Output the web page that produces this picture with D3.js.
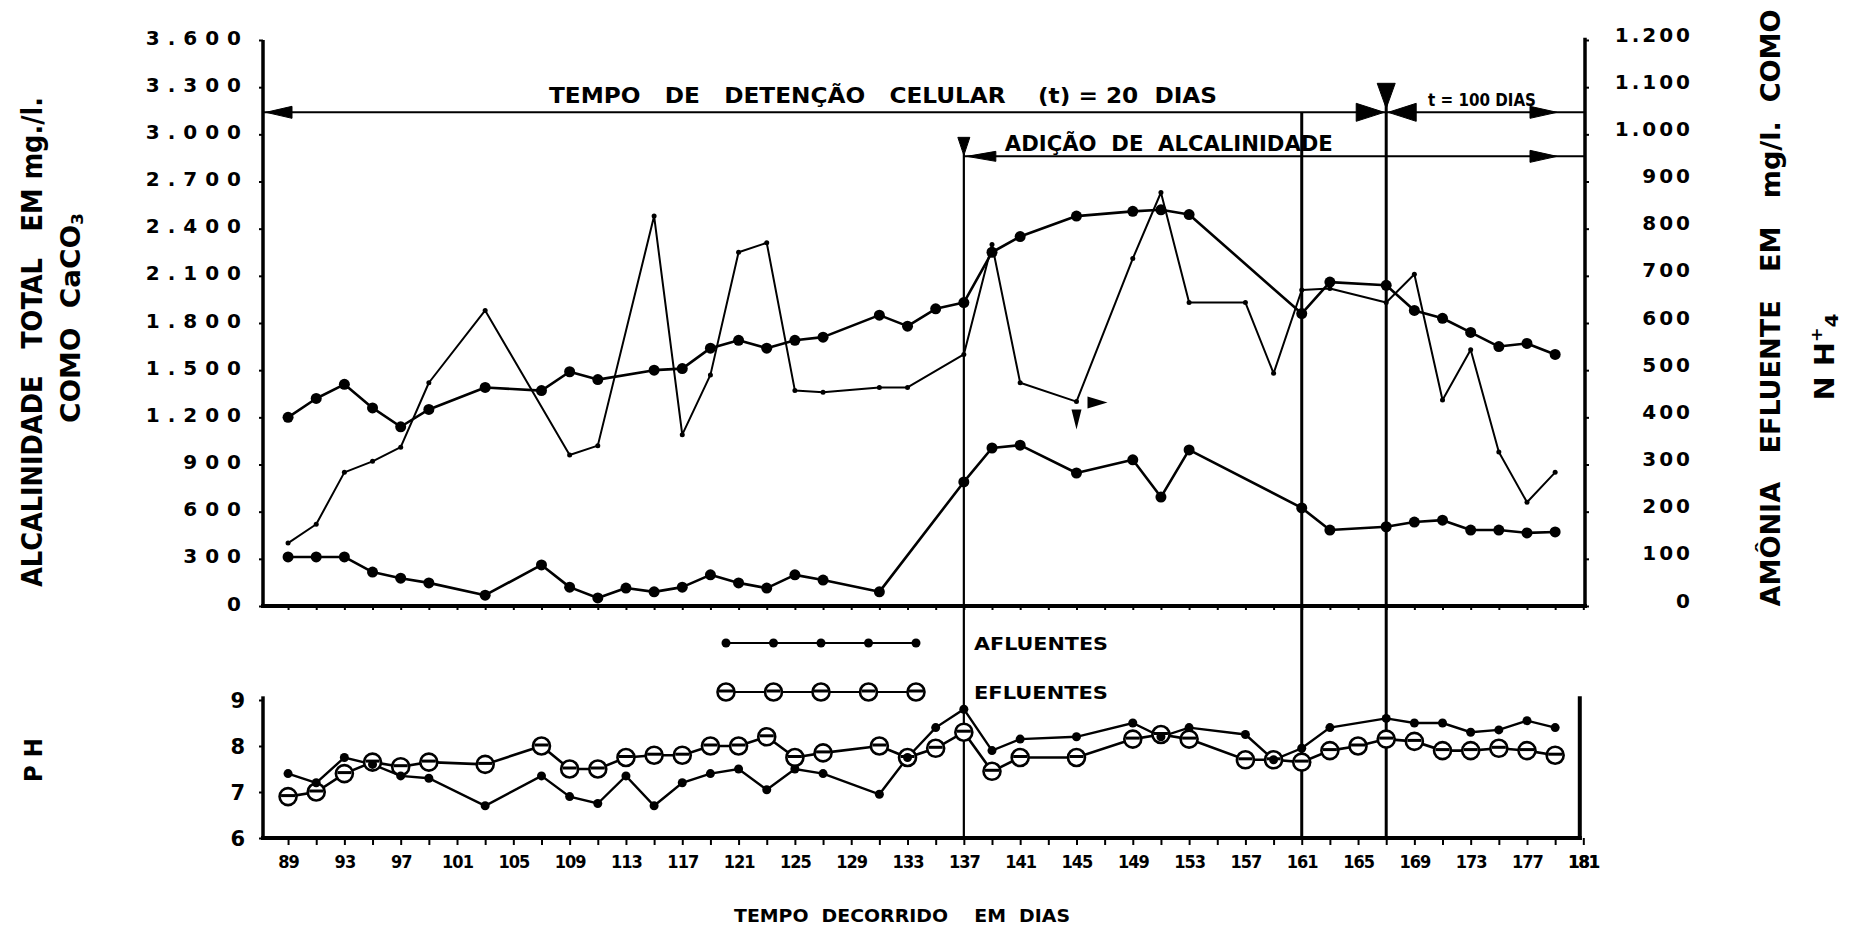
<!DOCTYPE html>
<html>
  <head>
    <meta charset="utf-8">
    <script src="https://d3js.org/d3.v7.min.js"></script>
    <title>Alcalinidade, amônia e pH</title>
    <style>
      body { margin: 0px; background: #fff; }
      svg { display: block; }
      text {
        font-family: 'DejaVu Sans', sans-serif;
        font-weight: bold;
        fill: #000;
        white-space: pre;
      }
      .cond { font-family: 'DejaVu Sans Condensed', 'DejaVu Sans', sans-serif; }
      .axis .domain { display: none; }
      .axis line { stroke: #000; stroke-width: 2; }
    </style>
  </head>
  <body>
    <svg width="1852" height="927"></svg>
    <script>
      // alcalinidade total afluente (mg/l CaCO3) - linha de pontos pequenos
      var diasAlcAfl = [89, 91, 93, 95, 97, 99, 103, 109, 111, 115, 117, 119, 121, 123, 125, 127, 131, 133,
        137, 139, 141, 145, 149, 151, 153, 157, 159, 161, 163, 167, 169, 171, 173, 175, 177, 179];
      var alcAfluente = [400, 520, 850, 920, 1010, 1420, 1880, 960, 1020, 2480, 1090, 1470, 2250, 2310, 1370, 1360, 1390, 1390,
        1600, 2300, 1420, 1300, 2210, 2630, 1930, 1930, 1480, 2010, 2020, 1930, 2110, 1310, 1630, 980, 660, 850];

      // alcalinidade total efluente (mg/l CaCO3)
      var diasAlcEfl = [89, 91, 93, 95, 97, 99, 103, 107, 109, 111, 115, 117, 119, 121, 123, 125, 127, 131, 133, 135,
        137, 139, 141, 145, 149, 151, 153, 161, 163, 167, 169, 171, 173, 175, 177, 179];
      var alcEfluente = [1200, 1320, 1410, 1260, 1140, 1250, 1390, 1370, 1490, 1440, 1500, 1510, 1640, 1690, 1640, 1690, 1710, 1850, 1780, 1890,
        1930, 2250, 2350, 2480, 2510, 2520, 2490, 1860, 2060, 2040, 1880, 1830, 1740, 1650, 1670, 1600];

      // amônia efluente (mg/l NH4+) - eixo da direita
      var diasAmonia = [89, 91, 93, 95, 97, 99, 103, 107, 109, 111, 113, 115, 117, 119, 121, 123, 125, 127, 131,
        137, 139, 141, 145, 149, 151, 153, 161, 163, 167, 169, 171, 173, 175, 177, 179];
      var amonia = [104, 104, 104, 72, 59, 49, 23, 87, 40, 17, 38, 30, 40, 66, 49, 38, 66, 55, 30,
        263, 335, 341, 282, 310, 231, 331, 208, 161, 168, 178, 182, 161, 161, 155, 157];

      // pH
      var diasPhAfl = [89, 91, 93, 95, 97, 99, 103, 107, 109, 111, 113, 115, 117, 119, 121, 123, 125, 127, 131, 133,
        135, 137, 139, 141, 145, 149, 151, 153, 157, 159, 161, 163, 167, 169, 171, 173, 175, 177, 179];
      var phAfluente = [7.4, 7.2, 7.75, 7.6, 7.35, 7.3, 6.7, 7.35, 6.9, 6.75, 7.35, 6.7, 7.2, 7.4, 7.5, 7.05, 7.5, 7.4, 6.95, 7.75,
        8.4, 8.8, 7.9, 8.15, 8.2, 8.5, 8.2, 8.4, 8.25, 7.7, 7.95, 8.4, 8.6, 8.5, 8.5, 8.3, 8.35, 8.55, 8.4];
      var diasPhEfl = [89, 91, 93, 95, 97, 99, 103, 107, 109, 111, 113, 115, 117, 119, 121, 123, 125, 127, 131, 133,
        135, 137, 139, 141, 145, 149, 151, 153, 157, 159, 161, 163, 165, 167, 169, 171, 173, 175, 177, 179];
      var phEfluente = [6.9, 7.0, 7.4, 7.65, 7.55, 7.65, 7.6, 8.0, 7.5, 7.5, 7.75, 7.8, 7.8, 8.0, 8.0, 8.2, 7.75, 7.85, 8.0, 7.75,
        7.95, 8.3, 7.45, 7.75, 7.75, 8.15, 8.25, 8.15, 7.7, 7.7, 7.65, 7.9, 8.0, 8.15, 8.1, 7.9, 7.9, 7.95, 7.9, 7.8];

      // eixos
      var ticksAlc = [0, 300, 600, 900, 1200, 1500, 1800, 2100, 2400, 2700, 3000, 3300, 3600];
      var ticksAmonia = [0, 100, 200, 300, 400, 500, 600, 700, 800, 900, 1000, 1100, 1200];
      var ticksPh = [6, 7, 8, 9];
      var diasRotulo = [89, 93, 97, 101, 105, 109, 113, 117, 121, 125, 129, 133, 137, 141, 145, 149, 153, 157, 161, 165, 169, 173, 177, 181];

      // mudanças de operação
      var diaAdicao = 137;
      var diaMarco = 161;
      var diaTempo100 = 167;

      var svg = d3.select('svg');

      var x = d3.scaleLinear().domain([87.22, 181.12]).range([263, 1585]);
      var yAlc = d3.scaleLinear().domain([0, 3600]).range([606, 40]);
      var yAm = d3.scaleLinear().domain([0, 1200]).range([606, 40]);
      var yPh = d3.scaleLinear().domain([6, 9]).range([838, 700]);

      var br = d3.formatLocale({ decimal: ',', thousands: '.', grouping: [3], currency: ['', ''] });
      var fmt = br.format(',');

      var diasTick = d3.range(89, 182, 2);

      // ---------- eixos do gráfico principal ----------
      var gLeft = svg.append('g').attr('class', 'axis')
          .attr('transform', 'translate(263,0)')
          .call(d3.axisLeft(yAlc).tickValues(ticksAlc).tickFormat(fmt).tickSize(4).tickPadding(10));
      gLeft.selectAll('text')
          .attr('font-size', 20).attr('letter-spacing', 8).attr('dy', '0.2em');

      var gRight = svg.append('g').attr('class', 'axis')
          .attr('transform', 'translate(1585,0)')
          .call(d3.axisRight(yAm).tickValues(ticksAmonia).tickFormat(fmt).tickSize(4));
      gRight.selectAll('text')
          .attr('font-size', 20).attr('letter-spacing', 3)
          .attr('text-anchor', 'end').attr('x', 108).attr('dy', '0.05em');

      svg.append('g').attr('class', 'axis')
          .attr('transform', 'translate(0,606)')
          .call(d3.axisBottom(x).tickValues(diasTick).tickFormat('').tickSize(4));

      svg.append('line').attr('x1', 263).attr('x2', 263).attr('y1', yAlc(3600)).attr('y2', 608)
          .attr('stroke', '#000').attr('stroke-width', 3.5);
      svg.append('line').attr('x1', 1585).attr('x2', 1585).attr('y1', yAm(1205)).attr('y2', 608)
          .attr('stroke', '#000').attr('stroke-width', 3.5);
      svg.append('line').attr('x1', 261).attr('x2', 1587).attr('y1', 606).attr('y2', 606)
          .attr('stroke', '#000').attr('stroke-width', 4);

      // ---------- eixos do pH ----------
      var xPhFim = x(180.75);
      var gPh = svg.append('g').attr('class', 'axis')
          .attr('transform', 'translate(263,0)')
          .call(d3.axisLeft(yPh).tickValues(ticksPh).tickFormat(d3.format('d')).tickSize(4).tickPadding(14));
      gPh.selectAll('text').attr('font-size', 21).attr('dy', '0.35em');

      var gPhX = svg.append('g').attr('class', 'axis')
          .attr('transform', 'translate(0,838)')
          .call(d3.axisBottom(x).tickValues(diasTick)
            .tickFormat(function (d) { return diasRotulo.indexOf(d) >= 0 ? d : ''; })
            .tickSize(7).tickPadding(10));
      gPhX.selectAll('text').attr('class', 'cond').attr('font-size', 18).attr('letter-spacing', -1);
      gPhX.append('text').attr('class', 'cond')
          .attr('x', x(181)).attr('y', 17).attr('dy', '0.71em')
          .attr('text-anchor', 'middle').attr('font-size', 18).attr('letter-spacing', -1)
          .text('181');

      svg.append('line').attr('x1', 263).attr('x2', 263).attr('y1', yPh(9.08)).attr('y2', 840)
          .attr('stroke', '#000').attr('stroke-width', 3.5);
      svg.append('line').attr('x1', xPhFim).attr('x2', xPhFim).attr('y1', yPh(9.08)).attr('y2', 840)
          .attr('stroke', '#000').attr('stroke-width', 4);
      svg.append('line').attr('x1', 261).attr('x2', xPhFim + 2).attr('y1', 838).attr('y2', 838)
          .attr('stroke', '#000').attr('stroke-width', 4);

      // ---------- marcos verticais e setas ----------
      var ySeta1 = yAlc(3140);
      var ySeta2 = yAlc(2860);

      function ponta(px, py, dir, len, hw) {
        // dir: 'l', 'r', 'd'
        if (dir === 'l') return 'M' + px + ',' + py + 'L' + (px + len) + ',' + (py - hw) + 'L' + (px + len) + ',' + (py + hw) + 'Z';
        if (dir === 'r') return 'M' + px + ',' + py + 'L' + (px - len) + ',' + (py - hw) + 'L' + (px - len) + ',' + (py + hw) + 'Z';
        return 'M' + px + ',' + py + 'L' + (px - hw) + ',' + (py - len) + 'L' + (px + hw) + ',' + (py - len) + 'Z';
      }

      var marcos = svg.append('g').attr('stroke', '#000').attr('fill', '#000');
      marcos.append('line').attr('x1', x(diaAdicao)).attr('x2', x(diaAdicao))
          .attr('y1', ySeta2 - 3).attr('y2', 838).attr('stroke-width', 2.2);
      marcos.append('line').attr('x1', x(diaMarco)).attr('x2', x(diaMarco))
          .attr('y1', ySeta1).attr('y2', 838).attr('stroke-width', 3);
      marcos.append('line').attr('x1', x(diaTempo100)).attr('x2', x(diaTempo100))
          .attr('y1', ySeta1 - 12).attr('y2', 838).attr('stroke-width', 3);

      marcos.append('line').attr('x1', 263).attr('x2', 1585).attr('y1', ySeta1).attr('y2', ySeta1).attr('stroke-width', 2);
      marcos.append('line').attr('x1', x(diaAdicao)).attr('x2', 1585).attr('y1', ySeta2).attr('y2', ySeta2).attr('stroke-width', 2);

      var pontas = [
        ponta(266, ySeta1, 'l', 26, 6),
        ponta(x(diaTempo100) - 2, ySeta1, 'r', 28, 9),
        ponta(x(diaTempo100) + 2, ySeta1, 'l', 28, 9),
        ponta(1557, ySeta1, 'r', 27, 6),
        ponta(x(diaAdicao) + 3, ySeta2, 'l', 29, 5),
        ponta(1557, ySeta2, 'r', 27, 6),
        ponta(x(diaAdicao), ySeta2 - 1, 'd', 18, 6),
        ponta(x(diaTempo100), ySeta1 - 4, 'd', 25, 9)
      ];
      marcos.selectAll('path.ponta').data(pontas).enter().append('path')
          .attr('class', 'ponta').attr('d', function (d) { return d; }).attr('stroke-width', 1);

      svg.append('text').attr('class', 'cond').attr('x', 549).attr('y', 103)
          .attr('font-size', 21).attr('textLength', 668).attr('lengthAdjust', 'spacingAndGlyphs')
          .text('TEMPO   DE   DETENÇÃO   CELULAR    (t) = 20  DIAS');
      svg.append('text').attr('class', 'cond').attr('x', x(diaAdicao) + 41).attr('y', 151)
          .attr('font-size', 21).attr('textLength', 328).attr('lengthAdjust', 'spacingAndGlyphs')
          .text('ADIÇÃO  DE  ALCALINIDADE');
      svg.append('text').attr('class', 'cond').attr('x', 1428).attr('y', 106)
          .attr('font-size', 17).attr('textLength', 108).attr('lengthAdjust', 'spacingAndGlyphs')
          .text('t = 100 DIAS');

      // ---------- séries principais ----------
      function serie(dias, valores, y, largura, raio) {
        var pts = d3.zip(dias, valores);
        var g = svg.append('g');
        g.append('path').datum(pts)
            .attr('fill', 'none').attr('stroke', '#000').attr('stroke-width', largura)
            .attr('stroke-linejoin', 'round')
            .attr('d', d3.line().x(function (d) { return x(d[0]); }).y(function (d) { return y(d[1]); }));
        g.selectAll('circle').data(pts).enter().append('circle')
            .attr('cx', function (d) { return x(d[0]); })
            .attr('cy', function (d) { return y(d[1]); })
            .attr('r', raio).attr('fill', '#000');
        return g;
      }

      serie(diasAlcAfl, alcAfluente, yAlc, 2, 2.5);
      serie(diasAlcEfl, alcEfluente, yAlc, 2.6, 5.5);
      serie(diasAmonia, amonia, yAm, 2.6, 5.5);

      // marcas no ponto do dia 145
      var px145 = x(145), py145 = yAlc(alcAfluente[diasAlcAfl.indexOf(145)]);
      svg.append('path').attr('d', ponta(px145 + 31, py145 + 1, 'r', 20, 6));
      svg.append('path').attr('d', ponta(px145, py145 + 28, 'd', 20, 5));

      // ---------- pH ----------
      var linhaPh = d3.line().x(function (d) { return x(d[0]); }).y(function (d) { return yPh(d[1]); });
      var ptsEfl = d3.zip(diasPhEfl, phEfluente);
      var ptsAfl = d3.zip(diasPhAfl, phAfluente);
      svg.append('path').datum(ptsEfl).attr('fill', 'none').attr('stroke', '#000')
          .attr('stroke-width', 2.6).attr('d', linhaPh);
      svg.append('path').datum(ptsAfl).attr('fill', 'none').attr('stroke', '#000')
          .attr('stroke-width', 2.4).attr('d', linhaPh);

      function circuloAberto(sel) {
        sel.append('circle').attr('r', 8.5).attr('fill', '#fff').attr('stroke', '#000').attr('stroke-width', 2.6);
        sel.append('line').attr('x1', -7).attr('x2', 7).attr('y1', -1).attr('y2', -1)
            .attr('stroke', '#000').attr('stroke-width', 3);
      }

      svg.append('g').selectAll('g').data(ptsEfl).enter().append('g')
          .attr('transform', function (d) { return 'translate(' + x(d[0]) + ',' + yPh(d[1]) + ')'; })
          .call(circuloAberto);
      svg.append('g').selectAll('circle').data(ptsAfl).enter().append('circle')
          .attr('cx', function (d) { return x(d[0]); })
          .attr('cy', function (d) { return yPh(d[1]); })
          .attr('r', 4.5).attr('fill', '#000');

      // ---------- legenda ----------
      var legX = d3.scalePoint().domain(d3.range(5)).range([726, 916]);
      var leg = svg.append('g');
      leg.append('line').attr('x1', 726).attr('x2', 916).attr('y1', 643).attr('y2', 643)
          .attr('stroke', '#000').attr('stroke-width', 2);
      leg.selectAll('circle.af').data(legX.domain()).enter().append('circle')
          .attr('class', 'af').attr('cx', legX).attr('cy', 643).attr('r', 4.5).attr('fill', '#000');
      leg.append('line').attr('x1', 726).attr('x2', 916).attr('y1', 692).attr('y2', 692)
          .attr('stroke', '#000').attr('stroke-width', 2);
      leg.selectAll('g.ef').data(legX.domain()).enter().append('g')
          .attr('class', 'ef').attr('transform', function (d) { return 'translate(' + legX(d) + ',692)'; })
          .call(circuloAberto);
      leg.append('text').attr('class', 'cond').attr('x', 974).attr('y', 650)
          .attr('font-size', 18).attr('textLength', 134).attr('lengthAdjust', 'spacingAndGlyphs').text('AFLUENTES');
      leg.append('text').attr('class', 'cond').attr('x', 974).attr('y', 699)
          .attr('font-size', 18).attr('textLength', 134).attr('lengthAdjust', 'spacingAndGlyphs').text('EFLUENTES');

      // ---------- títulos ----------
      function titulo(cx, cy, len, size) {
        return svg.append('text').attr('class', 'cond')
            .attr('transform', 'translate(' + cx + ',' + cy + ') rotate(-90)')
            .attr('text-anchor', 'middle').attr('dominant-baseline', 'central')
            .attr('font-size', size).attr('textLength', len).attr('lengthAdjust', 'spacingAndGlyphs');
      }
      titulo(32, 342, 490, 28).text('ALCALINIDADE   TOTAL   EM mg./l.');
      var t2 = titulo(71, 318, 210, 26);
      t2.append('tspan').text('COMO  CaCO');
      t2.append('tspan').attr('font-size', 16).attr('dy', 6).text('3');
      titulo(1770, 308, 597, 27).text('AMÔNIA   EFLUENTE   EM   mg/l.  COMO');
      var t4 = titulo(1825, 357, 87, 26);
      t4.append('tspan').text('N H');
      t4.append('tspan').attr('font-size', 16).attr('dy', -9).text('+');
      t4.append('tspan').attr('font-size', 18).attr('dy', 15).text('4');
      titulo(34, 760, 44, 24).text('P H');

      svg.append('text').attr('class', 'cond').attr('x', 734).attr('y', 922)
          .attr('font-size', 18).attr('textLength', 336).attr('lengthAdjust', 'spacingAndGlyphs')
          .text('TEMPO  DECORRIDO    EM  DIAS');
    </script>
  </body>
</html>
